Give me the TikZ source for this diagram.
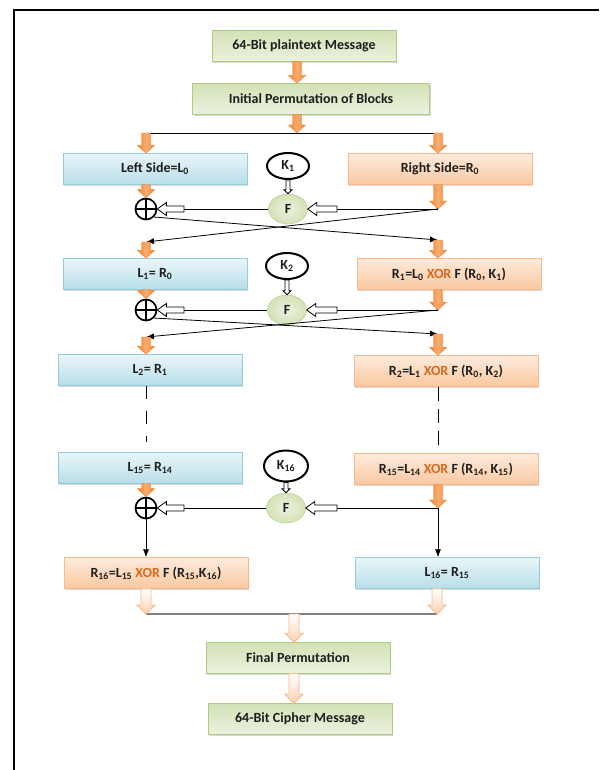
\documentclass[tikz,border=0pt]{standalone}
\usepackage{fontspec}
\setmainfont{Carlito}
\usepackage{tikz}
\usetikzlibrary{shapes.geometric, arrows.meta, calc, shadows}
\definecolor{blueTop}{HTML}{EAF5F9}
\definecolor{blueBottom}{HTML}{B7DEE8}
\definecolor{blueLine}{HTML}{92CDDC}
\definecolor{orangeTop}{HTML}{FDEBDC}
\definecolor{orangeBottom}{HTML}{FBC8A0}
\definecolor{orangeLine}{HTML}{F9B98C}
\definecolor{greenTop}{HTML}{D3E2B6}
\definecolor{greenBottom}{HTML}{EBF2DF}
\definecolor{greenLine}{HTML}{B0CA80}
\definecolor{arrowDark}{HTML}{F0802E}
\definecolor{arrowLight}{HTML}{F9AE72}
\definecolor{hollowLine}{HTML}{F7B88A}
\definecolor{hollowFill}{HTML}{FBD2B2}
\definecolor{xorText}{HTML}{D9691A}
\definecolor{boxText}{HTML}{1E1E1E}
\tikzset{blockarrow/.style n args={3}{to path={
    ($(\tikztostart)!#1!90:(\tikztotarget)$) --
    ($(\tikztotarget)!#3!(\tikztostart)!#1!-90:(\tikztostart)$) --
    ($(\tikztotarget)!#3!(\tikztostart)!#2!-90:(\tikztostart)$) --
    (\tikztotarget) --
    ($(\tikztotarget)!#3!(\tikztostart)!#2!90:(\tikztostart)$) --
    ($(\tikztotarget)!#3!(\tikztostart)!#1!90:(\tikztostart)$) --
    ($(\tikztostart)!#1!-90:(\tikztotarget)$) -- cycle}}}
\tikzstyle{box} = [rectangle, minimum width=184pt, minimum height=31pt, text centered, inner sep=0pt, font=\fontsize{14}{16}\selectfont\bfseries, text=boxText, drop shadow={opacity=0.3, shadow xshift=1pt, shadow yshift=-1.5pt}]
\tikzstyle{greenbox} = [box, draw=greenLine, top color=greenTop, bottom color=greenBottom]
\tikzstyle{bluebox} = [box, draw=blueLine, top color=blueTop, bottom color=blueBottom]
\tikzstyle{orangebox} = [box, draw=orangeLine, top color=orangeTop, bottom color=orangeBottom]
\tikzstyle{keynode} = [ellipse, draw, line width=2pt, fill=white, minimum width=42pt, minimum height=26pt, inner sep=0pt, font=\fontsize{14}{16}\selectfont\bfseries, text=boxText]
\tikzstyle{func} = [ellipse, draw=greenLine, inner color=greenBottom, outer color=greenTop, minimum width=39pt, minimum height=30pt, inner sep=0pt, font=\fontsize{14}{16}\selectfont\bfseries, text=boxText]
\tikzstyle{xor} = [circle, draw, line width=1.7pt, minimum size=21pt, inner sep=0pt, path picture={\draw [line width=1.7pt] (path picture bounding box.north) -- (path picture bounding box.south) (path picture bounding box.west) -- (path picture bounding box.east);}]
\tikzstyle{orangearrow} = [blockarrow={4.5pt}{8.5pt}{8pt}, draw=arrowDark, line width=0.4pt, left color=arrowDark, right color=arrowDark, middle color=arrowLight]
\tikzstyle{hollowarrow} = [blockarrow={3pt}{6.5pt}{9pt}, draw, line width=0.8pt, fill=white]
\tikzstyle{keyarrow} = [blockarrow={2pt}{4pt}{4pt}, draw, line width=0.8pt, fill=white]
\tikzstyle{outarrow} = [blockarrow={5pt}{9pt}{9pt}, draw=hollowLine, line width=0.8pt, top color=white, bottom color=hollowFill]
\tikzstyle{arrow} = [line width=0.8pt, -{Latex[length=8pt,width=6pt]}]
\tikzstyle{thinline} = [line width=0.8pt]
\begin{document}
\begin{tikzpicture}[x=1pt, y=1pt, node distance=100pt]
            \useasboundingbox (0,0) rectangle (599,-770);
            \draw [line width=1.8pt] (13,-10) -- (599,-10);
            \draw [line width=1.8pt] (14,-10) -- (14,-770);
            \node (plain) [greenbox] at (304,-46) {64-Bit plaintext Message};
            \node (initPerm) [greenbox, minimum width=237pt, below of=plain, yshift=47pt, xshift=7pt] {Initial Permutation of Blocks};
            \node (left0) [bluebox, below of=initPerm, yshift=30pt, xshift=-156pt] {Left Side=L\textsubscript{0}};
            \node (right0) [orangebox, right of=left0, xshift=185pt] {Right Side=R\textsubscript{0}};
            \node (key1) [keynode, right of=left0, xshift=33pt, yshift=3pt] {K\textsubscript{1}};
            \node (f1) [func, below of=key1, yshift=57pt] {F};
            \node (xor1) [xor, below of=left0, yshift=60pt, xshift=-9pt] {};
            \node (left1) [bluebox, below of=left0, yshift=-5pt] {L\textsubscript{1}= R\textsubscript{0}};
            \node (right1) [orangebox, right of=left1, xshift=194pt] {R\textsubscript{1}=L\textsubscript{0} \textcolor{xorText}{XOR} F (R\textsubscript{0}, K\textsubscript{1})};
            \node (key2) [keynode, right of=left1, xshift=32pt, yshift=8pt] {K\textsubscript{2}};
            \node (f2) [func, below of=key2, yshift=56pt] {F};
            \node (xor2) [xor, below of=left1, yshift=64pt, xshift=-9pt] {};
            \node (left2) [bluebox, below of=left1, yshift=4pt, xshift=-5pt] {L\textsubscript{2}= R\textsubscript{1}};
            \node (right2) [orangebox, right of=left2, xshift=196pt, yshift=-1pt] {R\textsubscript{2}=L\textsubscript{1} \textcolor{xorText}{XOR} F (R\textsubscript{0}, K\textsubscript{2})};
            \node (left15) [bluebox, below of=left2, yshift=2pt] {L\textsubscript{15}= R\textsubscript{14}};
            \node (right15) [orangebox, right of=left15, xshift=196pt, yshift=-1pt] {R\textsubscript{15}=L\textsubscript{14} \textcolor{xorText}{XOR} F (R\textsubscript{14}, K\textsubscript{15})};
            \node (key16) [keynode, minimum width=44pt, minimum height=31pt, right of=left15, xshift=36pt, yshift=2pt] {K\textsubscript{16}};
            \node (f16) [func, below of=key16, yshift=58pt] {F};
            \node (xor16) [xor, below of=left15, yshift=60pt, xshift=-4pt] {};
            \node (right16) [orangebox, below of=left15, yshift=-5pt, xshift=6pt] {R\textsubscript{16}=L\textsubscript{15} \textcolor{xorText}{XOR} F (R\textsubscript{15},K\textsubscript{16})};
            \node (left16) [bluebox, right of=right16, xshift=191pt] {L\textsubscript{16}= R\textsubscript{15}};
            \node (finalPerm) [greenbox, below of=right16, yshift=15pt, xshift=142pt] {Final Permutation};
            \node (cipher) [greenbox, below of=finalPerm, yshift=39pt, xshift=2pt] {64-Bit Cipher Message};
            \coordinate [below of=initPerm, yshift=66pt, xshift=-14pt] (split);
            \coordinate [below of=right0, yshift=60pt, xshift=-2pt] (join1);
            \coordinate [below of=right0, yshift=29pt, xshift=-2pt] (crossR1);
            \coordinate [below of=xor1, yshift=67pt] (crossL1);
            \coordinate [left of=join1, xshift=-1pt] (tailR1);
            \coordinate [right of=xor1, xshift=-62pt] (tailL1);
            \coordinate [below of=right1, yshift=64pt, xshift=-11pt] (join2);
            \coordinate [below of=right1, yshift=40pt, xshift=-11pt] (crossR2);
            \coordinate [below of=xor2, yshift=73pt] (crossL2);
            \coordinate [left of=join2, xshift=-1pt] (tailR2);
            \coordinate [right of=xor2, xshift=-62pt] (tailL2);
            \coordinate [below of=right15, yshift=61pt, xshift=-8pt] (join16);
            \coordinate [left of=join16, xshift=-1pt] (tailR16);
            \coordinate [right of=xor16, xshift=-62pt] (tailL16);
            \coordinate [below of=right16, yshift=59pt, xshift=-10pt] (mergeL);
            \coordinate [below of=left16, yshift=59pt, xshift=-10pt] (mergeR);
            \coordinate [below of=finalPerm, yshift=144pt, xshift=-4pt] (merge);

            \draw [orangearrow] (split |- plain.south) to (split |- initPerm.north);
            \draw [thinline] (xor1 |- split) -- (join1 |- split);
            \draw [orangearrow] (split |- initPerm.south) to (split);
            \draw [orangearrow] (xor1 |- split) to (xor1 |- left0.north);
            \draw [orangearrow] (join1 |- split) to (join1 |- right0.north);
            \draw [keyarrow] (key1.south) to (f1.north);
            \draw [orangearrow] (xor1 |- left0.south) to (xor1.north);
            \draw [orangearrow] (join1 |- right0.south) to (join1);
            \draw [thinline] (join1) -- (tailR1);
            \draw [hollowarrow] (tailR1) to (f1.east);
            \draw [thinline] (f1.west) -- (tailL1);
            \draw [hollowarrow] (tailL1) to (xor1.east);
            \draw [arrow] (xor1.south east) -- (crossR1);
            \draw [arrow] (join1) -- (crossL1);
            \draw [orangearrow] (crossL1) to (xor1 |- left1.north);
            \draw [orangearrow] (crossR1) to (join1 |- right1.north);
            \draw [keyarrow] (key2.south) to (f2.north);
            \draw [orangearrow] (xor2 |- left1.south) to (xor2.north);
            \draw [orangearrow] (join2 |- right1.south) to (join2);
            \draw [thinline] (join2) -- (tailR2);
            \draw [hollowarrow] (tailR2) to (f2.east);
            \draw [thinline] (f2.west) -- (tailL2);
            \draw [hollowarrow] (tailL2) to (xor2.east);
            \draw [arrow] (xor2.south east) -- (crossR2);
            \draw [arrow] (join2) -- (crossL2);
            \draw [orangearrow] (crossL2) to (xor2 |- left2.north);
            \draw [orangearrow] (crossR2) to (join2 |- right2.north);
            \draw [line width=1pt, dash pattern=on 13pt off 12pt, shorten >=10pt] (xor2 |- left2.south) -- (xor2 |- left15.north);
            \draw [line width=1pt, dash pattern=on 14pt off 8pt, shorten >=8pt] (join2 |- right2.south) -- (join2 |- right15.north);
            \draw [keyarrow] (key16.south) to (f16.north);
            \draw [orangearrow] (xor16 |- left15.south) to (xor16.north);
            \draw [orangearrow] (join16 |- right15.south) to (join16);
            \draw [thinline] (join16) -- (tailR16);
            \draw [hollowarrow] (tailR16) to (f16.east);
            \draw [thinline] (f16.west) -- (tailL16);
            \draw [hollowarrow] (tailL16) to (xor16.east);
            \draw [arrow] (xor16.south) -- (xor16 |- right16.north);
            \draw [arrow] (join16) -- (join16 |- left16.north);
            \draw [line width=1.6pt, gray] (mergeL) -- (mergeR);
            \draw [outarrow] (mergeL |- right16.south) to (mergeL);
            \draw [outarrow] (mergeR |- left16.south) to (mergeR);
            \draw [outarrow] (merge) to (merge |- finalPerm.north);
            \draw [outarrow] (merge |- finalPerm.south) to (merge |- cipher.north);
        \end{tikzpicture}
\end{document}
